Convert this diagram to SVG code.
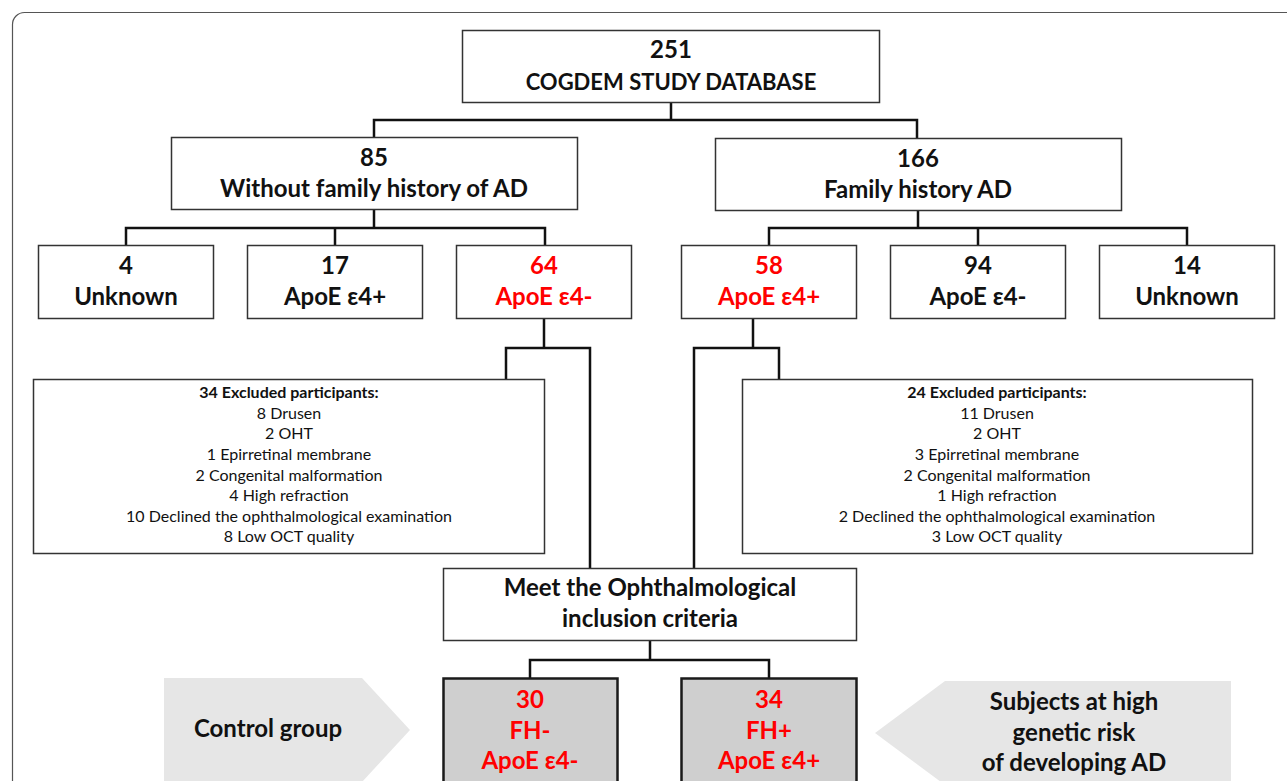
<svg xmlns="http://www.w3.org/2000/svg" width="1287" height="781" viewBox="0 0 1287 781">
<style>
text{font-family:Lato,"Open Sans","Liberation Sans",sans-serif;text-anchor:middle;fill:#111}
.b{font-weight:bold;font-size:24px}
.c{font-size:22px}
.s{font-size:16px}
.sb{font-size:16px;font-weight:bold}
.r{fill:#ff0000}
.box{fill:#fff;stroke:#333;stroke-width:1.5}
.gbox{fill:#cfcfcf;stroke:#1a1a1a;stroke-width:2.5}
.arrow{fill:#e6e6e6}
.con{fill:none;stroke:#111;stroke-width:2.5}
</style>
<rect x="12.5" y="12.5" width="1300" height="800" rx="12" fill="#fff" stroke="#555" stroke-width="1.2"/>
<g id="connectors">
<path class="con" d="M671 103V120M374 137V120H917V138"/>
<path class="con" d="M374 210V228M126 245V228H545V245M335 228V245"/>
<path class="con" d="M918 211V228M769 245V228H1187V245M978 228V245"/>
<path class="con" d="M544 319V348M506 379V348H590V568"/>
<path class="con" d="M753 319V348M779 379V348H694V568"/>
<path class="con" d="M650 641V660M530 678V660H769V678"/>
</g>
<g id="n251"><rect class="box" x="462.5" y="30.5" width="417" height="72"/><text class="b" x="671" y="58">251</text><text class="b c" x="671" y="90">COGDEM STUDY DATABASE</text></g>
<g id="n85"><rect class="box" x="171.5" y="137.5" width="406" height="72"/><text class="b" x="374" y="166">85</text><text class="b" x="374" y="197">Without family history of AD</text></g>
<g id="n166"><rect class="box" x="715.5" y="138.5" width="406" height="72"/><text class="b" x="918" y="167">166</text><text class="b" x="918" y="198">Family history AD</text></g>
<g id="n4"><rect class="box" x="38.5" y="245.5" width="175" height="73"/><text class="b" x="126" y="274">4</text><text class="b" x="126" y="305">Unknown</text></g>
<g id="n17"><rect class="box" x="247.5" y="245.5" width="175" height="73"/><text class="b" x="335" y="274">17</text><text class="b" x="335" y="305">ApoE ε4+</text></g>
<g id="n64"><rect class="box" x="456.5" y="245.5" width="175" height="73"/><text class="b r" x="544" y="274">64</text><text class="b r" x="544" y="305">ApoE ε4-</text></g>
<g id="n58"><rect class="box" x="681.5" y="245.5" width="175" height="73"/><text class="b r" x="769" y="274">58</text><text class="b r" x="769" y="305">ApoE ε4+</text></g>
<g id="n94"><rect class="box" x="890.5" y="245.5" width="175" height="73"/><text class="b" x="978" y="274">94</text><text class="b" x="978" y="305">ApoE ε4-</text></g>
<g id="n14"><rect class="box" x="1099.5" y="245.5" width="175" height="73"/><text class="b" x="1187" y="274">14</text><text class="b" x="1187" y="305">Unknown</text></g>
<g id="exclL"><rect class="box" x="33.5" y="379.5" width="511" height="174"/>
<text class="sb" x="289" y="398">34 Excluded participants:</text>
<text class="s" x="289" y="419">8 Drusen</text>
<text class="s" x="289" y="439">2 OHT</text>
<text class="s" x="289" y="460">1 Epirretinal membrane</text>
<text class="s" x="289" y="481">2 Congenital malformation</text>
<text class="s" x="289" y="501">4 High refraction</text>
<text class="s" x="289" y="522">10 Declined the ophthalmological examination</text>
<text class="s" x="289" y="542">8 Low OCT quality</text></g>
<g id="exclR"><rect class="box" x="742.5" y="379.5" width="510" height="174"/>
<text class="sb" x="997" y="398">24 Excluded participants:</text>
<text class="s" x="997" y="419">11 Drusen</text>
<text class="s" x="997" y="439">2 OHT</text>
<text class="s" x="997" y="460">3 Epirretinal membrane</text>
<text class="s" x="997" y="481">2 Congenital malformation</text>
<text class="s" x="997" y="501">1 High refraction</text>
<text class="s" x="997" y="522">2 Declined the ophthalmological examination</text>
<text class="s" x="997" y="542">3 Low OCT quality</text></g>
<g id="meet"><rect class="box" x="443.5" y="568.5" width="413" height="72"/><text class="b" x="650" y="596">Meet the Ophthalmological</text><text class="b" x="650" y="627">inclusion criteria</text></g>
<g id="n30"><rect class="gbox" x="443.5" y="678.5" width="174" height="120"/><text class="b r" x="530" y="708">30</text><text class="b r" x="530" y="739">FH-</text><text class="b r" x="530" y="769">ApoE ε4-</text></g>
<g id="n34"><rect class="gbox" x="681.5" y="678.5" width="175" height="120"/><text class="b r" x="769" y="708">34</text><text class="b r" x="769" y="739">FH+</text><text class="b r" x="769" y="769">ApoE ε4+</text></g>
<g id="control"><polygon class="arrow" points="164,678 362,678 410,730 362,782 164,782"/><text class="b" x="268" y="737">Control group</text></g>
<g id="highrisk"><polygon class="arrow" points="875,733 945,681 1231,681 1231,785 945,785"/><text class="b" x="1074" y="710">Subjects at high</text><text class="b" x="1074" y="741">genetic risk</text><text class="b" x="1074" y="771">of developing AD</text></g>
</svg>
